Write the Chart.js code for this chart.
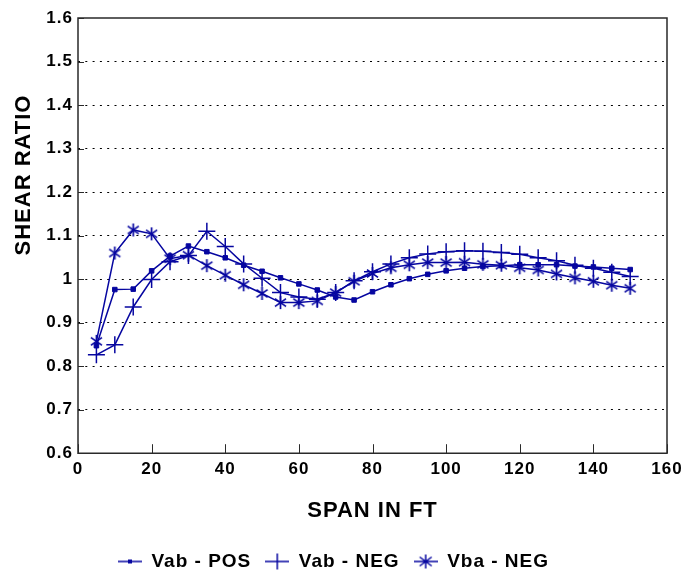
<!DOCTYPE html>
<html lang="en">
<head>
  <meta charset="UTF-8" />
  <title>Shear ratio vs span</title>
  <script src="https://cdn.jsdelivr.net/npm/chart.js"></script>
  <style>
    html, body { margin: 0; padding: 0; background: #fff; }
    #chart { display: block; }
  </style>
</head>
<body>
  <canvas id="chart" width="686" height="575"></canvas>

  <script>
    // data
    const spanFt = [5, 10, 15, 20, 25, 30, 35, 40, 45, 50, 55, 60, 65, 70, 75,
                    80, 85, 90, 95, 100, 105, 110, 115, 120, 125, 130, 135, 140, 145, 150];
    const vabPos = [0.847, 0.976, 0.977, 1.019, 1.053, 1.076, 1.063, 1.049, 1.032, 1.018,
                    1.003, 0.989, 0.975, 0.959, 0.952, 0.971, 0.987, 1.001, 1.011, 1.019,
                    1.025, 1.029, 1.031, 1.033, 1.033, 1.033, 1.030, 1.028, 1.025, 1.022];
    const vabNeg = [0.826, 0.849, 0.936, 0.999, 1.040, 1.054, 1.110, 1.075, 1.035, 1.002,
                    0.969, 0.959, 0.954, 0.969, 0.996, 1.017, 1.035, 1.049, 1.058, 1.063,
                    1.065, 1.064, 1.061, 1.057, 1.049, 1.042, 1.032, 1.025, 1.016, 1.006];
    const vbaNeg = [0.857, 1.060, 1.113, 1.104, 1.047, 1.055, 1.031, 1.009, 0.987, 0.967,
                    0.946, 0.946, 0.950, 0.969, 0.995, 1.013, 1.026, 1.033, 1.038, 1.038,
                    1.039, 1.034, 1.032, 1.026, 1.021, 1.012, 1.003, 0.995, 0.986, 0.979];

    const seriesNames = ["Vab - POS", "Vab - NEG", "Vba - NEG"];
    const xTicks = [0, 20, 40, 60, 80, 100, 120, 140, 160];
    const yTicks = [0.6, 0.7, 0.8, 0.9, 1.0, 1.1, 1.2, 1.3, 1.4, 1.5, 1.6];
    const yTickLabels = ["0.6", "0.7", "0.8", "0.9", "1", "1.1", "1.2", "1.3", "1.4", "1.5", "1.6"];

    const blue = "#0606a0";
    const fontFam = "'Liberation Sans', Arial, sans-serif";
    const spacing = "1px";

    // little asterisk marker (vertical bar + X)
    function starMarker(size) {
      const c = document.createElement("canvas");
      c.width = size; c.height = size;
      const g = c.getContext("2d");
      const m = size / 2, r = size / 2 - 1;
      g.strokeStyle = blue;
      g.lineWidth = 1.7;
      g.beginPath();
      g.moveTo(m, m - r); g.lineTo(m, m + r);
      g.moveTo(m - r * 0.85, m - r * 0.6); g.lineTo(m + r * 0.85, m + r * 0.6);
      g.moveTo(m + r * 0.85, m - r * 0.6); g.lineTo(m - r * 0.85, m + r * 0.6);
      g.stroke();
      return c;
    }

    // legend swatch : short line with the marker in the middle
    function legendSwatch(kind) {
      const c = document.createElement("canvas");
      c.width = 24; c.height = 18;
      const g = c.getContext("2d");
      g.strokeStyle = blue;
      g.fillStyle = blue;
      g.lineWidth = 1.5;
      g.beginPath();
      g.moveTo(0, 9); g.lineTo(24, 9);
      if (kind === "rect") {
        g.stroke();
        g.fillRect(10, 7, 4, 4);
      } else if (kind === "cross") {
        g.moveTo(12, 1); g.lineTo(12, 17);
        g.stroke();
      } else {
        g.moveTo(12, 2); g.lineTo(12, 16);
        g.moveTo(6, 4.5); g.lineTo(18, 13.5);
        g.moveTo(18, 4.5); g.lineTo(6, 13.5);
        g.stroke();
      }
      return c;
    }

    const swatches = [legendSwatch("rect"), legendSwatch("cross"), legendSwatch("star")];

    // letter spacing on the canvas (the reference font is wide)
    const spacingPlugin = {
      id: "spacing",
      beforeUpdate(chart) { chart.ctx.letterSpacing = spacing; },
      beforeRender(chart) { chart.ctx.letterSpacing = spacing; }
    };

    // frame, inward tick marks and the y title
    const framePlugin = {
      id: "frame",
      afterDraw(chart) {
        const ctx = chart.ctx;
        const a = chart.chartArea;
        const xs = chart.scales.x, ys = chart.scales.y;
        ctx.save();
        ctx.strokeStyle = "#2a2a2a";
        ctx.lineWidth = 1.5;
        ctx.beginPath();
        ctx.rect(a.left, a.top, a.right - a.left, a.bottom - a.top);
        ctx.stroke();
        ctx.lineWidth = 1;
        ctx.beginPath();
        xTicks.forEach(v => {
          const px = Math.round(xs.getPixelForValue(v)) + 0.5;
          ctx.moveTo(px, a.bottom); ctx.lineTo(px, a.bottom - 9);
        });
        yTicks.forEach(v => {
          const py = Math.round(ys.getPixelForValue(v)) + 0.5;
          ctx.moveTo(a.left, py); ctx.lineTo(a.left + 6, py);
        });
        ctx.stroke();

        ctx.letterSpacing = spacing;
        ctx.fillStyle = "#000";
        ctx.font = "bold 22px " + fontFam;
        ctx.textAlign = "center";
        ctx.textBaseline = "middle";
        ctx.translate(24, 175);
        ctx.rotate(-Math.PI / 2);
        ctx.fillText("SHEAR RATIO", 0, 0);
        ctx.restore();
      }
    };

    function makeDataset(label, values, style) {
      return {
        label: label,
        data: spanFt.map((x, i) => ({ x: x, y: values[i] })),
        borderColor: blue,
        backgroundColor: blue,
        borderWidth: 1.5,
        pointStyle: style,
        pointRadius: style === "rect" ? 3.2 : (style === "cross" ? 8.5 : 7),
        pointBorderWidth: style === "rect" ? 1 : 1.5,
        pointBorderColor: blue,
        pointBackgroundColor: blue,
        fill: false,
        tension: 0
      };
    }

    const ctx = document.getElementById("chart").getContext("2d");
    new Chart(ctx, {
      type: "line",
      data: {
        datasets: [
          makeDataset(seriesNames[0], vabPos, "rect"),
          makeDataset(seriesNames[1], vabNeg, "cross"),
          makeDataset(seriesNames[2], vbaNeg, starMarker(15))
        ]
      },
      options: {
        responsive: false,
        animation: false,
        devicePixelRatio: 1,
        layout: { padding: { left: 0, right: 19, top: 18, bottom: -6 } },
        scales: {
          x: {
            type: "linear",
            min: 0,
            max: 160,
            afterBuildTicks: s => { s.ticks = xTicks.map(v => ({ value: v })); },
            afterFit: s => { s.paddingLeft = 0; s.paddingRight = 0; },
            ticks: {
              color: "#000",
              font: { family: fontFam, size: 17, weight: "bold" },
              padding: 6,
              maxRotation: 0
            },
            grid: { display: false, drawTicks: false },
            border: { display: false },
            title: {
              display: true,
              text: "SPAN IN FT",
              color: "#000",
              font: { family: fontFam, size: 22, weight: "bold" },
              padding: { top: 12, bottom: 14 }
            }
          },
          y: {
            type: "linear",
            min: 0.6,
            max: 1.6,
            afterBuildTicks: s => { s.ticks = yTicks.map(v => ({ value: v })); },
            afterFit: s => { s.width = 78; },
            ticks: {
              color: "#000",
              font: { family: fontFam, size: 17, weight: "bold" },
              padding: 5,
              callback: (v, i) => yTickLabels[i]
            },
            grid: {
              drawTicks: false,
              lineWidth: 1,
              color: c => (c.tick && (c.tick.value <= 0.6001 || c.tick.value >= 1.5999)) ? "rgba(0,0,0,0)" : "#000"
            },
            border: { display: false, dash: [2, 5.3] }
          }
        },
        plugins: {
          legend: {
            display: true,
            position: "bottom",
            labels: {
              usePointStyle: true,
              pointStyleWidth: 24,
              color: "#000",
              font: { family: fontFam, size: 19, weight: "bold" },
              padding: 14,
              generateLabels: chart => chart.data.datasets.map((d, i) => ({
                text: d.label,
                pointStyle: swatches[i],
                fillStyle: blue,
                strokeStyle: blue,
                lineWidth: 0,
                datasetIndex: i,
                hidden: false
              }))
            }
          },
          tooltip: { enabled: false }
        }
      },
      plugins: [spacingPlugin, framePlugin]
    });
  </script>
</body>
</html>
